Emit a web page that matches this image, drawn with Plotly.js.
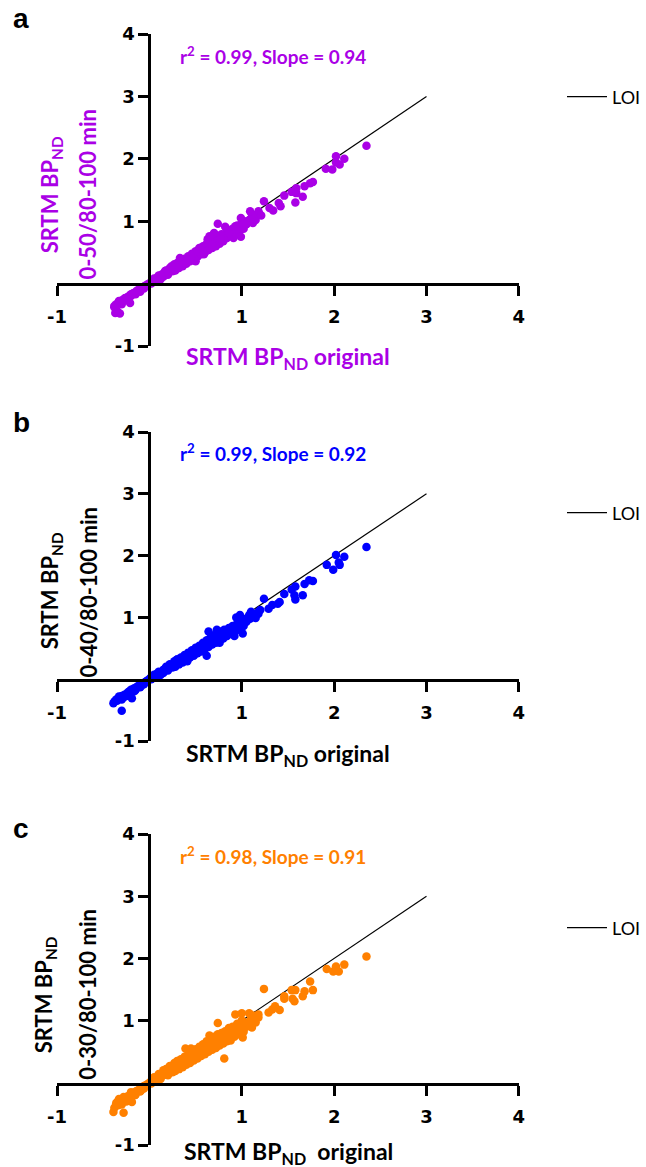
<!DOCTYPE html>
<html>
<head>
<meta charset="utf-8">
<script src="https://cdn.plot.ly/plotly-3.0.1.min.js"></script>
<style>
html,body{margin:0;padding:0;background:#fff;}
#chart{width:646px;height:1167px;}
#chart .xtick text, #chart .ytick text{font-family:'DejaVu Sans',sans-serif !important;font-size:18px !important;font-weight:700 !important;fill:#000 !important;}
#chart .legendtext{font-family:'Lato',sans-serif !important;font-size:18px !important;fill:#000 !important;}
</style>
</head>
<body>
<div id="chart"></div>
<script>
// ---------- DATA ----------
const panelLetters = ['a', 'b', 'c'];
const seriesColors = ['#AA00E6', '#0000FF', '#FF8000'];
const statsText = ['r<sup>2</sup> = 0.99, Slope = 0.94', 'r<sup>2</sup> = 0.99, Slope = 0.92', 'r<sup>2</sup> = 0.98, Slope = 0.91'];
const yTitleLine1 = 'SRTM BP<sub>ND</sub>';
const yTitleLine2 = ['0-50/80-100 min', '0-40/80-100 min', '0-30/80-100 min'];
const xTitles = ['SRTM BP<sub>ND</sub> original', 'SRTM BP<sub>ND</sub> original', 'SRTM BP<sub>ND</sub>\u00a0 original'];
const tickVals = [-1, 1, 2, 3, 4];
const tickText = ['-1', '1', '2', '3', '4'];
const loiX = [0, 3];
const loiY = [0, 3];
const loiName = 'LOI';

// panel a: SRTM BPND original (x) vs 0-50/80-100 min (y)
const pointsA = [
[-0.38,-0.36],[-0.36,-0.33],[-0.33,-0.31],[-0.31,-0.30],[-0.30,-0.27],[-0.28,-0.26],[-0.27,-0.24],[-0.25,-0.23],
[-0.24,-0.22],[-0.22,-0.20],[-0.21,-0.19],[-0.20,-0.20],[-0.18,-0.16],[-0.17,-0.15],[-0.15,-0.14],[-0.14,-0.12],
[-0.12,-0.11],[-0.11,-0.10],[-0.09,-0.08],[-0.08,-0.07],[-0.06,-0.05],[-0.05,-0.05],[-0.03,-0.03],[-0.02,-0.01],
[0.00,0.00],[0.01,0.01],[0.02,0.03],[0.03,0.02],[0.05,0.05],[0.06,0.04],[0.07,0.07],[0.08,0.06],[0.09,0.10],
[0.10,0.08],[0.11,0.11],[0.12,0.10],[0.13,0.14],[0.14,0.12],[0.15,0.16],[0.16,0.13],[0.17,0.18],[0.18,0.15],
[0.19,0.20],[0.20,0.17],[0.21,0.22],[0.22,0.19],[0.23,0.24],[0.24,0.20],[0.25,0.26],[0.26,0.23],[0.27,0.27],
[0.28,0.24],[0.29,0.30],[0.30,0.26],[0.31,0.31],[0.32,0.28],[0.33,0.33],[0.34,0.30],[0.35,0.35],[0.36,0.31],
[0.37,0.37],[0.38,0.34],[0.39,0.38],[0.40,0.35],[0.41,0.40],[0.42,0.38],[0.43,0.42],[0.44,0.39],[0.45,0.44],
[0.46,0.41],[0.47,0.46],[0.48,0.43],[0.49,0.47],[0.50,0.45],[0.51,0.50],[0.52,0.46],[0.53,0.52],[0.54,0.48],
[0.55,0.53],[0.56,0.50],[0.57,0.56],[0.58,0.52],[0.59,0.57],[0.60,0.54],[0.61,0.60],[0.62,0.56],[0.63,0.61],
[0.64,0.58],[0.65,0.63],[0.66,0.59],[0.67,0.65],[0.68,0.61],[0.69,0.67],[0.70,0.63],[0.71,0.69],[0.72,0.65],
[0.73,0.70],[0.74,0.67],[0.75,0.72],[0.76,0.69],[0.78,0.74],[0.79,0.70],[0.80,0.77],[0.82,0.75],[0.84,0.80],
[0.86,0.78],[0.88,0.83],[0.90,0.82],[0.92,0.86],[0.94,0.85],[0.96,0.90],[0.98,0.88],[1.00,0.94],[1.03,0.95],
[1.05,1.00],[1.07,0.98],[1.10,1.04],[1.14,1.06],[1.16,1.10],[1.19,1.12],
[0.05,0.08],[0.10,0.13],[0.12,0.07],[0.15,0.11],[0.18,0.21],[0.20,0.14],[0.22,0.25],[0.25,0.20],[0.27,0.31],
[0.28,0.21],[0.30,0.33],[0.32,0.25],[0.34,0.36],[0.36,0.28],[0.38,0.40],[0.40,0.32],[0.42,0.44],[0.44,0.36],
[0.46,0.48],[0.48,0.40],[0.50,0.52],[0.52,0.43],[0.54,0.55],[0.56,0.47],[0.58,0.60],[0.60,0.50],[0.62,0.64],
[0.64,0.54],[0.66,0.68],[0.68,0.57],[0.70,0.72],[0.72,0.60],[0.74,0.76],[0.76,0.64],[0.78,0.79],[0.80,0.68],
[0.82,0.80],[0.84,0.73],[0.86,0.85],[0.88,0.77],[0.90,0.88],[0.92,0.80],[0.95,0.93],[0.97,0.83],[1.00,0.98],
[1.02,0.88],[1.05,0.95],[1.08,1.02],[1.12,1.08],[1.15,1.02],[-0.10,-0.13],[-0.15,-0.17],[-0.20,-0.17],
[-0.25,-0.26],[-0.30,-0.33],[-0.33,-0.28],[-0.06,-0.08],[0.02,0.00],[0.07,0.04],[0.03,0.05],
[2.35,2.21],[2.02,2.04],[2.11,2.00],[2.02,1.94],[2.06,1.91],[1.91,1.84],[1.98,1.83],[1.77,1.63],[1.74,1.61],
[1.68,1.56],[1.59,1.53],[1.54,1.47],[1.59,1.45],[1.66,1.39],[1.58,1.30],[1.46,1.41],[1.40,1.29],[1.42,1.24],
[1.34,1.17],[1.30,1.21],[1.24,1.32],[1.18,1.16],[1.21,1.09],[1.11,1.11],[1.09,1.16],[1.12,0.97],[0.99,1.05],
[1.02,0.95],[0.93,0.92],[0.99,0.75],[0.91,0.73],[0.82,0.91],[0.74,0.96],[0.80,0.76],[0.86,0.81],[0.70,0.81],
[0.65,0.76],[0.63,0.71],[0.68,0.63],[0.77,0.71],[0.54,0.57],[0.52,0.52],[0.59,0.47],[0.50,0.36],[0.45,0.44],
[0.40,0.39],[0.33,0.41],[0.36,0.30],[0.31,0.25],[0.24,0.28],[0.22,0.22],[0.17,0.20],[0.13,0.12],[0.08,0.09],
[0.04,0.04],[-0.05,-0.04],[-0.12,-0.10],[-0.19,-0.18],[-0.26,-0.23],[-0.31,-0.28],[-0.38,-0.38],[-0.35,-0.44],
[-0.32,-0.48],[-0.37,-0.47],[-0.21,-0.31]
];

// panel b: 0-40/80-100 min
const pointsB = [
[-0.38,-0.36],[-0.36,-0.33],[-0.34,-0.32],[-0.32,-0.30],[-0.30,-0.27],[-0.29,-0.27],[-0.27,-0.25],[-0.25,-0.24],
[-0.23,-0.21],[-0.22,-0.20],[-0.20,-0.19],[-0.18,-0.17],[-0.17,-0.15],[-0.15,-0.14],[-0.13,-0.12],[-0.12,-0.11],
[-0.10,-0.09],[-0.08,-0.07],[-0.07,-0.07],[-0.05,-0.05],[-0.03,-0.03],[-0.02,-0.02],[0.00,0.00],[0.01,0.02],
[0.03,0.02],[0.04,0.05],[0.06,0.05],[0.07,0.07],[0.08,0.09],[0.10,0.08],[0.11,0.11],[0.12,0.10],[0.14,0.13],
[0.15,0.15],[0.16,0.13],[0.18,0.17],[0.19,0.16],[0.20,0.20],[0.22,0.19],[0.23,0.22],[0.24,0.20],[0.26,0.25],
[0.27,0.23],[0.28,0.27],[0.30,0.26],[0.31,0.30],[0.32,0.27],[0.34,0.32],[0.35,0.30],[0.36,0.34],[0.38,0.33],
[0.39,0.37],[0.40,0.34],[0.42,0.40],[0.43,0.38],[0.44,0.41],[0.46,0.42],[0.47,0.44],[0.48,0.41],[0.50,0.47],
[0.51,0.45],[0.52,0.49],[0.54,0.48],[0.55,0.52],[0.56,0.49],[0.58,0.55],[0.59,0.52],[0.60,0.57],[0.62,0.54],
[0.63,0.60],[0.64,0.56],[0.66,0.62],[0.67,0.59],[0.68,0.64],[0.70,0.61],[0.71,0.67],[0.72,0.63],[0.74,0.70],
[0.75,0.66],[0.77,0.72],[0.79,0.70],[0.80,0.76],[0.82,0.73],[0.84,0.78],[0.86,0.76],[0.88,0.81],[0.90,0.79],
[0.92,0.85],[0.94,0.82],[0.96,0.88],[0.98,0.86],[1.00,0.92],[1.03,0.91],[1.06,0.97],[1.09,0.98],[1.12,1.02],
[1.15,1.03],[1.18,1.06],
[0.05,0.07],[0.10,0.12],[0.12,0.07],[0.15,0.10],[0.18,0.20],[0.20,0.14],[0.22,0.24],[0.25,0.19],[0.27,0.29],
[0.28,0.20],[0.30,0.32],[0.32,0.24],[0.34,0.35],[0.36,0.27],[0.38,0.39],[0.40,0.31],[0.42,0.43],[0.44,0.35],
[0.46,0.47],[0.48,0.38],[0.50,0.51],[0.52,0.42],[0.54,0.54],[0.56,0.45],[0.58,0.59],[0.60,0.49],[0.62,0.63],
[0.64,0.52],[0.66,0.67],[0.68,0.56],[0.70,0.71],[0.72,0.59],[0.74,0.75],[0.76,0.62],[0.78,0.77],[0.80,0.66],
[0.82,0.78],[0.84,0.70],[0.86,0.83],[0.88,0.74],[0.90,0.86],[0.92,0.77],[0.95,0.90],[0.97,0.80],[1.00,0.96],
[1.02,0.86],[1.05,0.93],[1.08,0.99],[1.12,1.05],[1.15,0.99],[-0.10,-0.13],[-0.15,-0.17],[-0.20,-0.17],
[-0.25,-0.27],[-0.30,-0.33],[-0.33,-0.28],[-0.06,-0.08],[0.02,0.00],[0.07,0.04],[0.03,0.05],
[2.35,2.14],[2.02,2.01],[2.11,1.98],[2.05,1.89],[2.06,1.85],[1.99,1.77],[1.92,1.85],[1.77,1.59],[1.73,1.60],
[1.68,1.54],[1.58,1.50],[1.54,1.45],[1.57,1.36],[1.58,1.29],[1.66,1.36],[1.46,1.38],[1.41,1.25],[1.39,1.22],
[1.33,1.20],[1.29,1.14],[1.24,1.30],[1.18,1.09],[1.20,1.12],[1.10,1.09],[1.08,1.04],[1.01,0.98],[0.94,1.00],
[0.98,1.04],[1.01,0.74],[0.92,0.70],[0.81,0.80],[0.73,0.80],[0.64,0.77],[0.76,0.59],[0.62,0.38],[0.51,0.48],
[0.41,0.29],[0.30,0.32],[0.27,0.21],[0.16,0.16],
[-0.39,-0.39],[-0.35,-0.35],[-0.30,-0.51],[-0.28,-0.29],[-0.19,-0.31],[-0.23,-0.24],[-0.16,-0.19],[-0.09,-0.11],
[-0.04,-0.05]
];

// panel c: 0-30/80-100 min
const pointsC = [
[-0.38,-0.40],[-0.36,-0.33],[-0.34,-0.36],[-0.32,-0.28],[-0.30,-0.30],[-0.28,-0.25],[-0.26,-0.27],[-0.24,-0.22],
[-0.22,-0.21],[-0.20,-0.18],[-0.18,-0.18],[-0.16,-0.15],[-0.14,-0.13],[-0.12,-0.12],[-0.10,-0.09],[-0.08,-0.08],
[-0.06,-0.05],[-0.04,-0.04],[-0.02,-0.02],[0.00,0.00],[0.02,0.03],[0.03,0.01],[0.05,0.06],[0.06,0.04],
[0.08,0.09],[0.09,0.07],[0.10,0.10],[0.12,0.13],[0.13,0.10],[0.15,0.16],[0.16,0.13],[0.18,0.18],[0.19,0.15],
[0.20,0.21],[0.22,0.18],[0.23,0.24],[0.24,0.20],[0.26,0.26],[0.27,0.22],[0.28,0.28],[0.30,0.25],[0.31,0.31],
[0.32,0.27],[0.34,0.33],[0.35,0.29],[0.36,0.36],[0.38,0.32],[0.39,0.38],[0.40,0.34],[0.42,0.41],[0.43,0.36],
[0.44,0.43],[0.46,0.39],[0.47,0.45],[0.48,0.41],[0.50,0.48],[0.51,0.43],[0.52,0.50],[0.54,0.46],[0.55,0.53],
[0.56,0.48],[0.58,0.56],[0.59,0.50],[0.60,0.58],[0.62,0.53],[0.63,0.60],[0.64,0.55],[0.66,0.64],[0.67,0.57],
[0.68,0.66],[0.70,0.60],[0.71,0.69],[0.72,0.62],[0.74,0.71],[0.75,0.65],[0.77,0.74],[0.78,0.67],[0.80,0.77],
[0.81,0.70],[0.83,0.79],[0.85,0.74],[0.87,0.83],[0.89,0.77],[0.91,0.86],[0.93,0.80],[0.95,0.90],[0.97,0.84],
[0.99,0.93],[1.01,0.88],[1.03,0.97],[1.06,0.93],[1.09,1.00],[1.12,0.98],[1.15,1.04],[1.18,1.05],
[0.05,0.09],[0.10,0.14],[0.12,0.06],[0.15,0.20],[0.18,0.22],[0.20,0.12],[0.22,0.27],[0.25,0.17],[0.27,0.32],
[0.28,0.19],[0.30,0.35],[0.32,0.22],[0.34,0.38],[0.36,0.25],[0.38,0.42],[0.40,0.29],[0.42,0.46],[0.44,0.32],
[0.46,0.50],[0.48,0.36],[0.50,0.54],[0.52,0.39],[0.54,0.58],[0.56,0.43],[0.58,0.62],[0.60,0.46],[0.62,0.67],
[0.64,0.50],[0.66,0.70],[0.68,0.53],[0.70,0.74],[0.72,0.56],[0.74,0.78],[0.76,0.60],[0.78,0.80],[0.80,0.63],
[0.82,0.83],[0.84,0.67],[0.86,0.88],[0.88,0.71],[0.90,0.90],[0.92,0.74],[0.95,0.95],[0.97,0.78],[1.00,1.00],
[1.02,0.82],[1.05,0.90],[1.08,0.95],[1.12,1.08],[1.15,0.97],[-0.10,-0.14],[-0.15,-0.19],[-0.20,-0.15],
[-0.25,-0.30],[-0.30,-0.35],[-0.33,-0.26],[-0.06,-0.09],[0.02,-0.01],[0.07,0.03],[0.03,0.06],[0.45,0.55],
[0.55,0.45],[0.65,0.55],[0.75,0.68],[0.85,0.70],
[2.35,2.03],[2.02,1.87],[2.11,1.90],[2.05,1.79],[1.99,1.79],[1.92,1.83],[1.77,1.49],[1.74,1.63],[1.68,1.47],
[1.66,1.39],[1.58,1.49],[1.54,1.49],[1.57,1.31],[1.55,1.35],[1.46,1.39],[1.46,1.35],[1.24,1.51],[1.41,1.17],
[1.36,1.23],[1.33,1.18],[1.29,1.13],[1.18,1.10],[1.08,1.12],[1.15,1.02],[1.00,1.12],[0.93,1.10],[1.11,0.89],
[1.01,0.73],[0.88,0.68],[0.81,0.39],[0.74,0.96],[0.65,0.76],[0.39,0.55],[0.51,0.46],[0.72,0.60],
[-0.39,-0.47],[-0.28,-0.48],[-0.35,-0.31],[-0.28,-0.23],[-0.19,-0.31],[-0.16,-0.20],[-0.09,-0.12],[-0.23,-0.26]
];
const allPoints = [pointsA, pointsB, pointsC];

// ---------- LAYOUT GEOMETRY (pixels in a 646x1167 page) ----------
const W = 646, H = 1167;
const px = v => v / W;
const py = v => 1 - v / H;
const xDom = [px(58), px(527)];
const yAxisPos = px(151.8);
const panels = [
  {top: 34,  bottom: 346,  zero: 284,  letterY: 19,  statY: 55,  legY: 97,  xtY: 357,  yt1: [52, 195], yt2: [89, 194]},
  {top: 432, bottom: 741,  zero: 680,  letterY: 423, statY: 452, legY: 513, xtY: 754,  yt1: [52, 591], yt2: [89, 592]},
  {top: 834, bottom: 1145, zero: 1084, letterY: 828, statY: 855, legY: 928, xtY: 1152, yt1: [46, 995], yt2: [88, 994]}
];
const titleColors = ['#AA00E6', '#000000', '#000000'];

const mkTickFont = () => ({family: 'DejaVu Sans, sans-serif', size: 18, color: '#000', weight: 700});
const titleFont = (c, s) => ({family: 'Lato, sans-serif', size: s, color: c, weight: 700});

const data = [];
const layout = {
  width: W, height: H,
  margin: {l: 0, r: 0, t: 0, b: 0},
  paper_bgcolor: '#fff', plot_bgcolor: 'rgba(0,0,0,0)',
  showlegend: true,
  annotations: []
};

panels.forEach((p, i) => {
  const n = i === 0 ? '' : String(i + 1);
  const xa = 'x' + n, ya = 'y' + n;
  layout['xaxis' + n] = {
    domain: xDom.slice(), range: [-1, 4], anchor: 'free', position: py(p.zero),
    showline: true, linecolor: '#000', linewidth: 3,
    ticks: 'outside', ticklen: 10, tickwidth: 3, tickcolor: '#000', ticklabelstandoff: 5,
    tickvals: tickVals.slice(), ticktext: tickText.slice(), tickfont: mkTickFont(),
    showgrid: false, zeroline: false, fixedrange: true, automargin: false
  };
  layout['yaxis' + n] = {
    domain: [py(p.bottom), py(p.top)], range: [-1, 4], anchor: 'free', position: yAxisPos,
    showline: true, linecolor: '#000', linewidth: 3,
    ticks: 'outside', ticklen: 10, tickwidth: 3, tickcolor: '#000',
    tickvals: tickVals.slice(), ticktext: tickText.slice(), tickfont: mkTickFont(),
    showgrid: false, zeroline: false, fixedrange: true, automargin: false
  };
  const legKey = i === 0 ? 'legend' : 'legend' + (i + 1);
  layout[legKey] = {
    x: px(571), y: py(p.legY), xanchor: 'left', yanchor: 'middle',
    bgcolor: 'rgba(0,0,0,0)', borderwidth: 0, itemwidth: 40,
    font: {family: 'Lato, sans-serif', size: 18, color: '#000'}
  };
  data.push({
    type: 'scatter', mode: 'lines', x: loiX.slice(), y: loiY.slice(), xaxis: xa, yaxis: ya,
    name: loiName, legend: legKey, showlegend: true,
    line: {color: '#000', width: 1.2}, hoverinfo: 'skip'
  });
  const pts = allPoints[i];
  data.push({
    type: 'scatter', mode: 'markers', xaxis: xa, yaxis: ya,
    x: pts.map(d => d[0]), y: pts.map(d => d[1]),
    marker: {color: seriesColors[i], size: 8.5, line: {width: 0}},
    showlegend: false, cliponaxis: false
  });
  layout.annotations.push({
    xref: 'paper', yref: 'paper', x: px(11), y: py(p.letterY), xanchor: 'left', yanchor: 'middle',
    text: panelLetters[i], showarrow: false,
    font: {family: 'Liberation Sans, Arial, sans-serif', size: 28, color: '#000', weight: 700}
  });
  layout.annotations.push({
    xref: 'paper', yref: 'paper', x: px(181), y: py(p.statY), xanchor: 'left', yanchor: 'middle',
    text: statsText[i], showarrow: false,
    font: {family: 'Lato, sans-serif', size: 19, color: seriesColors[i], weight: 700}
  });
  layout.annotations.push({
    xref: 'paper', yref: 'paper', x: px(293), y: py(p.xtY), xanchor: 'center', yanchor: 'middle',
    text: xTitles[i], showarrow: false, font: titleFont(titleColors[i], 23)
  });
  layout.annotations.push({
    xref: 'paper', yref: 'paper', x: px(p.yt1[0]), y: py(p.yt1[1]), xanchor: 'center', yanchor: 'middle',
    text: yTitleLine1, textangle: -90, showarrow: false, font: titleFont(titleColors[i], 22)
  });
  layout.annotations.push({
    xref: 'paper', yref: 'paper', x: px(p.yt2[0]), y: py(p.yt2[1]), xanchor: 'center', yanchor: 'middle',
    text: yTitleLine2[i], textangle: -90, showarrow: false, font: titleFont(titleColors[i], 22)
  });
});

Plotly.newPlot('chart', data, layout, {displayModeBar: false, staticPlot: true});
</script>
</body>
</html>
